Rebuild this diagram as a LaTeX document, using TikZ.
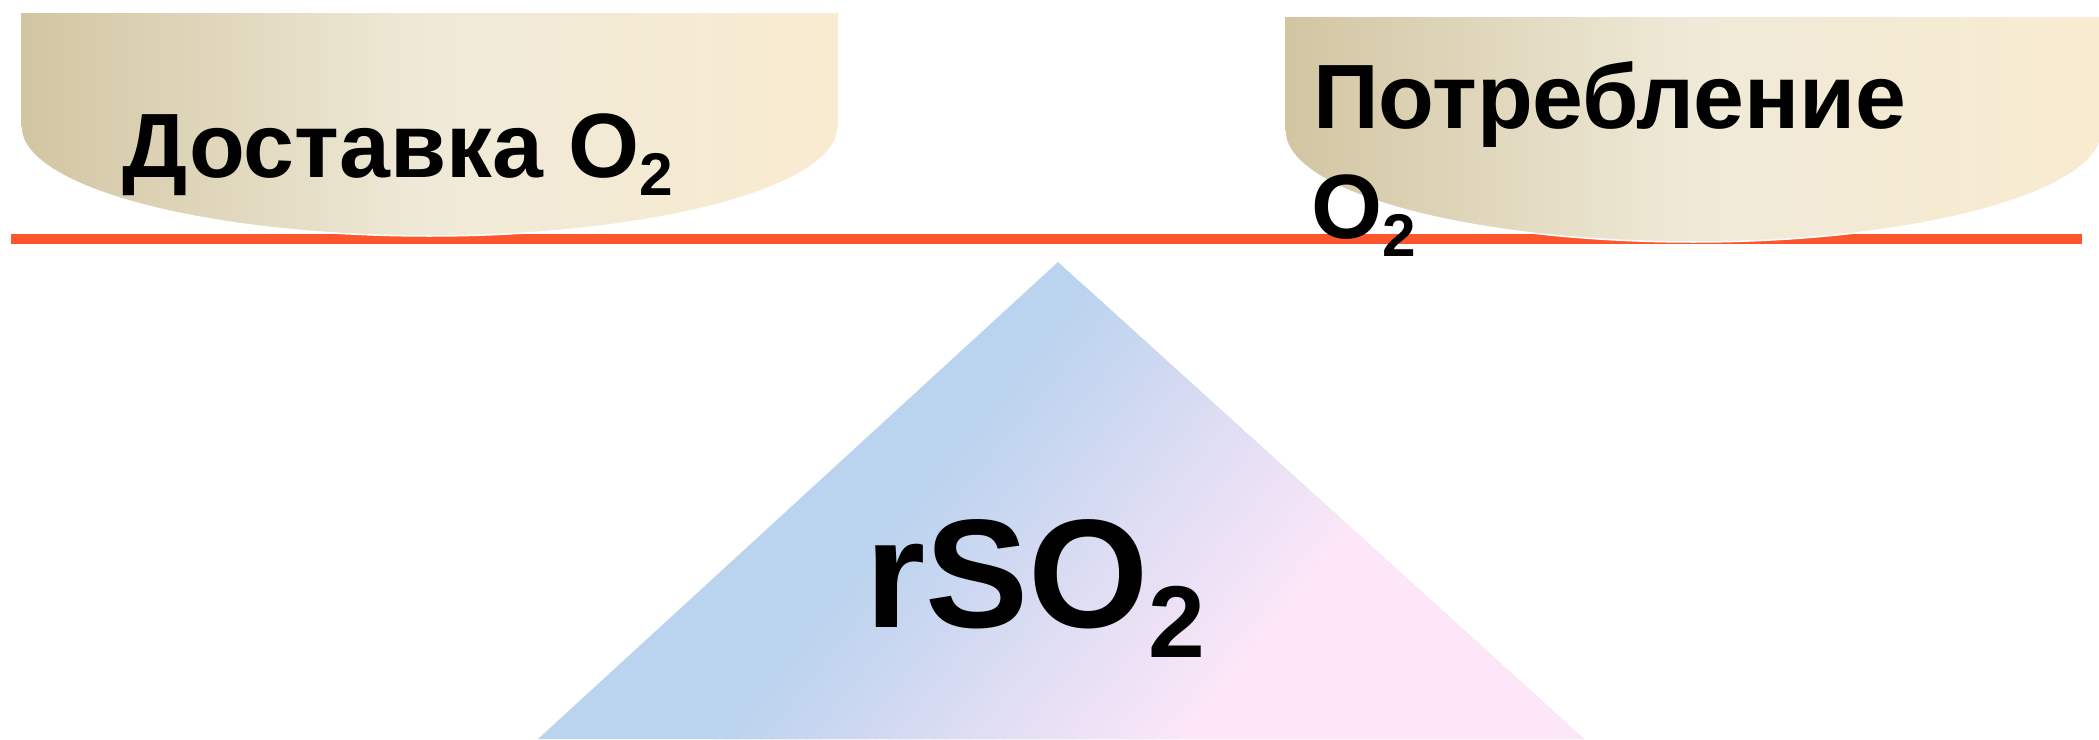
\documentclass[tikz,border=0pt]{standalone}
\usepackage{fontspec}
\setmainfont{Liberation Sans}
\definecolor{bowlL}{RGB}{210,197,162}
\definecolor{bowlM}{RGB}{239,234,216}
\definecolor{bowlR}{RGB}{249,235,208}
\definecolor{triB}{RGB}{186,211,238}
\definecolor{triP}{RGB}{252,230,248}
\definecolor{lineO}{RGB}{255,85,45}
\newcommand{\subtwo}{\raisebox{-0.2em}{\scalebox{0.66}{2}}}
\begin{document}
\begin{tikzpicture}[x=1cm,y=1cm,
  lbl/.style={font=\fontsize{26}{31}\selectfont\bfseries, inner sep=0pt, outer sep=0pt, anchor=base west},
  big/.style={font=\fontsize{44}{52}\selectfont\bfseries, inner sep=0pt, outer sep=0pt, anchor=base west},
  bowl/.style={left color=bowlL, right color=bowlR, middle color=bowlM},
  rim/.style={draw=white, line width=0.015cm},
  bar/.style={draw=lineO, line width=0.1cm}]
\useasboundingbox (0,0) rectangle (20.99,-7.39);
% triangle with diagonal blue-to-pink gradient
\begin{scope}
  \clip (10.58,-2.62) -- (5.38,-7.39) -- (15.84,-7.39) -- cycle;
  \fill[triB] (10.58,-2.62) -- (5.38,-7.39) -- (15.84,-7.39) -- cycle;
  \begin{scope}[rotate=-39]
    \foreach \i in {0,...,39}{
      \pgfmathsetmacro\aa{10.2+0.09*\i}
      \pgfmathtruncatemacro\pp{(\i+0.5)*2.5}
      \fill[fill=triP!\pp!triB] (\aa,-5) rectangle ++(0.1,15);
    }
    \fill[triP] (13.79,-5) rectangle (25,15);
  \end{scope}
\end{scope}
% beam
\coordinate (bl) at (0.11,-2.385);
\coordinate (br) at (20.82,-2.385);
\draw[bar] (bl) -- (br);
% left bowl
\shade[bowl] (0.21,-0.13) -- (0.21,-1.27) arc[start angle=180,end angle=360,x radius=4.085,y radius=1.09] -- (8.38,-0.13) -- cycle;
\draw[rim] (0.21,-1.27) arc[start angle=180,end angle=360,x radius=4.085,y radius=1.09];
% right bowl
\shade[bowl] (12.85,-0.17) -- (12.85,-1.31) arc[start angle=180,end angle=360,x radius=4.085,y radius=1.11] -- (21.02,-0.17) -- cycle;
\draw[rim] (12.85,-1.31) arc[start angle=180,end angle=360,x radius=4.085,y radius=1.11];
% texts
\node[lbl] (dost) at (1.23,-1.77) {Доставка O\subtwo};
\node[lbl] (potr) at (13.13,-1.285) {Потребление};
\node[lbl] (otwo) at (13.11,-2.38) {O\subtwo};
\node[big] (rso) at (8.65,-6.27) {rSO\subtwo};
\end{tikzpicture}
\end{document}
